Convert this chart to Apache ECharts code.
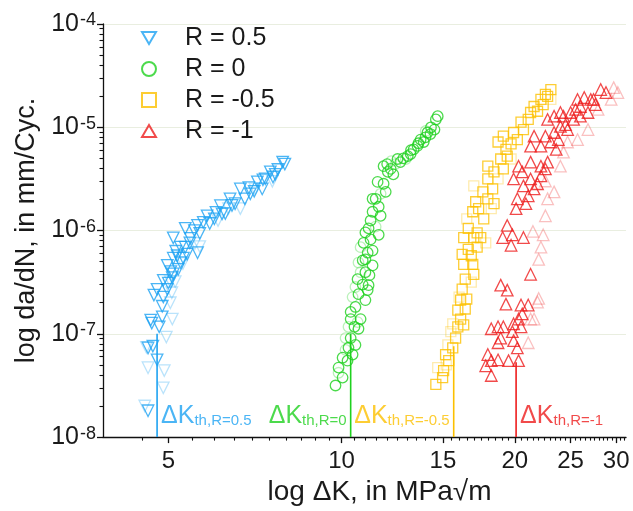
<!DOCTYPE html>
<html>
<head>
<meta charset="utf-8">
<script src="https://cdn.jsdelivr.net/npm/echarts@6/dist/echarts.min.js"></script>
<style>
  html, body { margin: 0; padding: 0; background: #ffffff; }
  #chart { width: 633px; height: 511px; }
</style>
</head>
<body>
<div id="chart"></div>
<script>
// Fatigue crack growth rate da/dN versus stress intensity range ΔK for four R ratios.

// Axis ranges and tick values
const xRange = [3.85, 31.2];
const yRange = [1e-8, 1e-4];
const xMajorTicks = [5, 10, 15, 20, 25, 30];
const xMinorTicks = [4.5, 5.5, 6, 6.5, 7, 7.5, 8, 8.5, 9, 9.5,
  10.5, 11, 11.5, 12, 12.5, 13, 13.5, 14, 14.5, 15.5, 16, 16.5, 17, 17.5, 18, 18.5, 19, 19.5,
  20.5, 21, 21.5, 22, 22.5, 23, 23.5, 24, 24.5, 25.5, 26, 26.5, 27, 27.5, 28, 28.5, 29, 29.5, 30.5, 31];
const yMinorMantissas = [2, 3, 4, 5, 6, 7, 8, 9];
const yDecades = [1e-8, 1e-7, 1e-6, 1e-5];

// Legend names
const seriesNames = ['R = 0.5', 'R = 0', 'R = -0.5', 'R = -1'];

// R = 0.5  [ΔK (MPa√m), da/dN (mm/cycle)]
const r05Main = [
  [4.61, 1.8e-8], [4.78, 5.6e-8], [4.61, 7.3e-8], [4.70, 7.6e-8], [4.68, 1.27e-7], [4.82, 1.17e-7],
  [4.66, 1.36e-7], [4.88, 1.46e-7], [4.88, 1.85e-7], [4.72, 2.37e-7], [4.90, 2.27e-7], [4.78, 2.7e-7],
  [4.98, 2.7e-7], [4.90, 3.3e-7], [5.10, 3.8e-7], [4.98, 4.6e-7], [5.20, 4.2e-7], [5.10, 5.4e-7],
  [5.31, 5.4e-7], [5.39, 5.9e-7], [5.62, 6.1e-7], [5.25, 6.9e-7], [5.10, 8.5e-7], [5.35, 1.05e-6],
  [5.62, 1.12e-6], [5.84, 1.39e-6], [6.16, 1.74e-6], [6.40, 2.03e-6], [6.67, 2.53e-6], [7.14, 2.96e-6],
  [7.52, 3.7e-6], [7.90, 4.6e-6], [5.46, 8.4e-7], [5.67, 9.4e-7], [5.90, 1.17e-6], [6.01, 1.3e-6],
  [6.28, 1.46e-6], [6.53, 1.82e-6], [6.79, 2.03e-6], [6.94, 2.27e-6], [7.28, 2.53e-6], [7.37, 3.17e-6],
  [7.67, 3.5e-6], [7.75, 3.9e-6], [7.97, 4.4e-6], [5.35, 6.9e-7], [5.18, 5.7e-7], [5.25, 4.9e-7],
  [5.55, 1.0e-6], [5.75, 1.2e-6], [6.05, 1.5e-6], [6.20, 1.45e-6], [6.45, 1.75e-6], [6.90, 2.6e-6],
  [7.05, 2.4e-6], [7.30, 3.1e-6], [7.60, 3.3e-6], [5.05, 4.0e-7], [5.15, 6.3e-7], [5.45, 7.6e-7],
  [5.00, 3.1e-7], [5.08, 3.5e-7]
];
const r05Light = [
  [4.55, 2.0e-8], [4.90, 3.0e-8], [4.92, 4.4e-8], [4.61, 4.7e-8], [4.58, 7.4e-8], [4.96, 9.3e-8],
  [5.08, 1.39e-7], [5.04, 2.0e-7], [5.04, 3.2e-7], [5.56, 7.5e-7], [6.36, 1.63e-6], [6.67, 1.63e-6],
  [7.58, 3.0e-6], [7.07, 2.53e-6], [5.67, 7.0e-7], [5.14, 3.2e-7], [5.07, 2.5e-7], [5.30, 4.8e-7],
  [6.10, 1.25e-6]
];

// R = 0
const r0Main = [
  [9.76, 3.16e-8], [10.04, 3.77e-8], [9.88, 4.71e-8], [10.24, 5.5e-8], [10.04, 5.87e-8], [10.45, 6.3e-8],
  [10.28, 7.33e-8], [10.57, 7.8e-8], [10.37, 9.1e-8], [10.70, 1.12e-7], [10.37, 1.39e-7], [10.79, 1.39e-7],
  [10.37, 1.63e-7], [10.57, 1.82e-7], [11.00, 2.12e-7], [10.70, 2.42e-7], [11.10, 2.65e-7], [10.88, 3.0e-7],
  [11.14, 2.96e-7], [11.00, 3.95e-7], [11.18, 3.7e-7], [10.88, 5.15e-7], [11.10, 6.1e-7], [11.32, 6.4e-7],
  [10.92, 7.6e-7], [11.60, 9.1e-7], [11.14, 1.05e-6], [11.69, 1.39e-6], [11.32, 1.52e-6], [11.46, 2.03e-6],
  [11.93, 2.37e-6], [11.55, 2.96e-6], [12.03, 3.7e-6], [11.83, 4.2e-6], [12.51, 4.93e-6], [13.03, 5.26e-6],
  [13.34, 6.1e-6], [13.72, 7.6e-6], [13.89, 7.2e-6], [14.10, 8.9e-6], [14.50, 9.5e-6], [14.58, 1.19e-5],
  [14.69, 1.28e-5], [12.17, 3.95e-6], [12.65, 4.6e-6], [13.18, 5.5e-6], [13.55, 6.6e-6], [13.99, 8.0e-6],
  [14.27, 8.6e-6], [12.30, 3.5e-6], [11.83, 2.84e-6], [11.32, 2.03e-6], [11.60, 1.7e-6], [11.23, 1.25e-6],
  [11.00, 9.6e-7], [11.23, 8.2e-7], [11.00, 5.26e-7], [11.32, 4.6e-7], [10.66, 3.38e-7], [10.53, 1.17e-7],
  [12.80, 5.0e-6], [13.20, 6.0e-6], [12.00, 4.4e-6], [14.30, 1.0e-5], [13.60, 7.0e-6]
];
const r0Light = [
  [10.16, 7.0e-8], [10.28, 1.17e-7], [10.57, 2.84e-7], [10.79, 3.95e-7], [12.40, 4.4e-6], [12.93, 4.93e-6],
  [11.69, 2.27e-6], [11.46, 1.09e-6], [10.79, 6.9e-7], [10.70, 4.9e-7], [10.45, 2.27e-7], [10.66, 1.3e-7],
  [10.16, 9.1e-8], [9.88, 4.2e-8], [12.20, 4.7e-6], [14.00, 9.2e-6]
];

// R = -0.5
const rm05Main = [
  [14.58, 3.24e-8], [14.98, 3.77e-8], [15.04, 4.4e-8], [15.35, 5.5e-8], [15.16, 6.3e-8], [15.60, 7.3e-8],
  [15.78, 9.1e-8], [15.92, 1.17e-7], [16.30, 1.22e-7], [16.10, 1.39e-7], [15.92, 1.7e-7], [16.40, 1.74e-7],
  [16.10, 2.12e-7], [16.50, 2.17e-7], [16.20, 2.71e-7], [16.40, 3.38e-7], [16.97, 3.77e-7], [16.30, 4.7e-7],
  [16.90, 4.7e-7], [17.20, 6.9e-7], [16.20, 5.87e-7], [16.60, 6.56e-7], [16.30, 8.55e-7], [16.97, 8.55e-7],
  [17.45, 8.55e-7], [16.60, 1.05e-6], [17.66, 1.3e-6], [16.90, 1.52e-6], [17.10, 1.9e-6], [17.95, 2.03e-6],
  [17.60, 2.37e-6], [17.95, 3.16e-6], [18.40, 3.7e-6], [17.95, 4.2e-6], [18.90, 4.93e-6], [19.40, 5.26e-6],
  [18.70, 7.2e-6], [19.10, 8.2e-6], [19.90, 8.9e-6], [20.50, 1.12e-5], [21.10, 1.19e-5], [21.30, 1.39e-5],
  [21.60, 1.59e-5], [22.20, 1.86e-5], [22.80, 1.99e-5], [23.10, 2.32e-5], [18.30, 2.53e-6], [19.10, 3.95e-6],
  [19.30, 6.1e-6], [19.70, 6.9e-6], [20.20, 7.6e-6], [20.70, 9.5e-6], [21.90, 1.43e-5], [22.40, 1.66e-5],
  [22.60, 2.08e-5], [18.40, 1.82e-6], [17.30, 1.63e-6], [17.20, 9.5e-7], [16.80, 5.7e-7]
];
const rm05Light = [
  [14.69, 4.7e-8], [15.30, 7.8e-8], [15.48, 1.05e-7], [15.60, 1.25e-7], [16.00, 2.27e-7], [16.80, 3.16e-7],
  [16.50, 1.3e-6], [16.97, 2.71e-6], [18.70, 3.16e-6], [19.70, 4.93e-6], [23.10, 1.86e-5], [18.20, 1.63e-6],
  [17.80, 7.6e-7], [15.20, 5.0e-8]
];

// R = -1
const rm1Main = [
  [18.2, 3.95e-8], [17.8, 4.9e-8], [18.2, 5.5e-8], [17.95, 6.3e-8], [18.7, 5.6e-8], [19.5, 5.5e-8],
  [20.3, 5.5e-8], [20.2, 7.3e-8], [18.7, 8.2e-8], [19.9, 8.6e-8], [18.9, 9.1e-8], [19.8, 1.05e-7],
  [18.2, 1.12e-7], [19.1, 1.17e-7], [18.7, 1.17e-7], [20.5, 1.17e-7], [19.9, 1.25e-7], [20.3, 1.39e-7],
  [20.6, 1.56e-7], [20.5, 1.9e-7], [21.1, 1.9e-7], [19.3, 1.94e-7], [19.4, 2.65e-7], [18.9, 2.96e-7],
  [21.3, 3.77e-7], [19.05, 8.55e-7], [19.8, 9.1e-7], [20.7, 8.55e-7], [19.7, 7.2e-7], [19.4, 1.12e-6],
  [20.1, 1.63e-6], [20.2, 2.03e-6], [21.1, 2.17e-6], [20.7, 2.71e-6], [21.6, 2.53e-6], [19.9, 3.16e-6],
  [21.3, 3.16e-6], [22.2, 3.38e-6], [20.6, 3.7e-6], [22.2, 4.2e-6], [21.3, 4.6e-6], [22.8, 4.6e-6],
  [20.3, 4.2e-6], [21.3, 6.56e-6], [22.2, 6.56e-6], [23.1, 7.2e-6], [21.6, 8.2e-6], [22.6, 8.2e-6],
  [23.4, 8.9e-6], [24.0, 1.02e-5], [24.7, 9.5e-6], [22.8, 1.19e-5], [23.4, 1.28e-5], [24.3, 1.28e-5],
  [25.3, 1.19e-5], [24.0, 1.39e-5], [25.0, 1.39e-5], [26.0, 1.28e-5], [26.8, 1.39e-5], [26.0, 1.59e-5],
  [27.1, 1.86e-5], [25.7, 1.86e-5], [26.4, 1.94e-5], [27.4, 1.86e-5], [28.2, 2.32e-5], [28.8, 2.17e-5],
  [20.9, 1.82e-6], [21.9, 2.84e-6], [22.6, 3.95e-6], [23.6, 6.1e-6], [23.8, 7.6e-6], [24.5, 1.06e-5],
  [25.5, 1.49e-5], [27.6, 1.66e-5]
];
const rm1Light = [
  [21.1, 8.2e-8], [21.3, 1.39e-7], [21.9, 2.03e-7], [22.0, 5.26e-7], [22.2, 6.9e-7], [21.5, 9.8e-7],
  [22.4, 9.1e-7], [22.6, 1.39e-6], [22.8, 2.03e-6], [22.6, 3.02e-6], [23.4, 2.37e-6], [29.7, 2.42e-5],
  [30.2, 2.17e-5], [29.4, 1.86e-5], [27.9, 1.49e-5], [26.8, 9.5e-6], [25.7, 7.6e-6], [24.7, 7.2e-6],
  [24.3, 5.75e-6], [24.0, 4.2e-6], [21.6, 1.39e-7], [22.0, 2.2e-7]
];

// Threshold ΔK_th per R ratio and the da/dN reached by each marker line
const thresholdK = [4.78, 10.37, 15.66, 20.1];
const thresholdTop = [1e-7, 1e-7, 7.6e-8, 5.3e-8];
const thresholdSub = ['th,R=0.5', 'th,R=0', 'th,R=-0.5', 'th,R=-1'];

// ---------------------------------------------------------------------------
const FONT = '"Liberation Sans", Arial, Helvetica, sans-serif';
const palette = ['#1ea2f2', '#1fd11f', '#fcc000', '#ee1d1d'];
const lightPalette = ['rgba(30,162,242,0.38)', 'rgba(31,209,31,0.38)', 'rgba(252,192,0,0.4)', 'rgba(238,29,29,0.35)'];
const markers = [
  { symbol: 'triangle', size: 11.5, rotate: 180, legendIcon: 'path://M0,0L12,0L6,10.4Z' },
  { symbol: 'circle', size: 10.5, rotate: 0, legendIcon: 'circle' },
  { symbol: 'rect', size: 10, rotate: 0, legendIcon: 'rect' },
  { symbol: 'triangle', size: 11.5, rotate: 0, legendIcon: 'path://M6,0L12,10.4L0,10.4Z' }
];
const labelSide = ['right', 'left', 'left', 'right'];

const mainSets = [r05Main, r0Main, rm05Main, rm1Main];
const lightSets = [r05Light, r0Light, rm05Light, rm1Light];

function hollowSeries(name, data, idx, color, z) {
  const m = markers[idx];
  return {
    type: 'scatter', name: name, data: data,
    symbol: m.symbol, symbolSize: m.size, symbolRotate: m.rotate,
    itemStyle: { color: 'rgba(0,0,0,0)', borderColor: color, borderWidth: 1.3 },
    emphasis: { disabled: true }, silent: true, z: z
  };
}

const series = [];
lightSets.forEach((d, i) => series.push(hollowSeries(seriesNames[i] + ' ', d, i, lightPalette[i], 2)));
mainSets.forEach((d, i) => series.push(hollowSeries(seriesNames[i], d, i, palette[i], 3)));

thresholdK.forEach((k, i) => {
  series.push({
    type: 'line', data: [[k, yRange[0]], [k, thresholdTop[i]]],
    symbol: 'none', showSymbol: false, silent: true, z: 4,
    lineStyle: { color: palette[i], width: 1.6 }
  });
});

series.push({
  type: 'scatter', symbolSize: 0, silent: true, clip: false, z: 5,
  data: thresholdK.map((k, i) => ({
    value: [k, yRange[0]],
    label: {
      show: true, position: labelSide[i], distance: 4, offset: [0, -21],
      formatter: '{dk|ΔK}{sub|' + thresholdSub[i] + '}',
      rich: {
        dk: { fontSize: 25, lineHeight: 25, color: palette[i], fontFamily: FONT, verticalAlign: 'top' },
        sub: { fontSize: 15, lineHeight: 15, color: palette[i], fontFamily: FONT, verticalAlign: 'bottom', padding: [14, 0, 0, 0] }
      }
    }
  }))
});

const yMinorTicks = [];
yDecades.forEach(d => yMinorMantissas.forEach(m => yMinorTicks.push(m * d)));

const axisColor = '#111';
const option = {
  animation: false,
  backgroundColor: '#ffffff',
  grid: { left: 103, right: 7, top: 24, bottom: 71, containLabel: false },
  legend: {
    data: seriesNames.map((n, i) => ({ name: n, icon: markers[i].legendIcon })),
    orient: 'vertical', left: 136, top: 20,
    itemWidth: 14, itemHeight: 14, itemGap: 5,
    textStyle: { fontSize: 25, lineHeight: 26, color: '#1a1a1a', fontFamily: FONT, padding: [0, 0, 0, 24] },
    selectedMode: false
  },
  xAxis: [
    {
      type: 'log', logBase: 10, min: xRange[0], max: xRange[1], position: 'bottom',
      name: 'log ΔK, in MPa√m', nameLocation: 'middle', nameGap: 38,
      nameTextStyle: { fontSize: 28, color: '#1a1a1a', fontFamily: FONT, padding: [0, 0, 0, 30] },
      axisLine: { show: true, lineStyle: { color: axisColor, width: 1.3 } },
      axisTick: { show: true, customValues: xMajorTicks, length: 6, lineStyle: { color: axisColor, width: 1.3 } },
      axisLabel: { show: true, customValues: xMajorTicks, margin: 12, fontSize: 24, color: '#1a1a1a', fontFamily: FONT,
        formatter: v => String(Math.round(v)) },
      splitLine: { show: false }, minorTick: { show: false }
    },
    {
      type: 'log', logBase: 10, min: xRange[0], max: xRange[1], position: 'bottom',
      axisLine: { show: false },
      axisTick: { show: true, customValues: xMinorTicks, length: 3.5, lineStyle: { color: axisColor, width: 1.1 } },
      axisLabel: { show: false }, splitLine: { show: false }
    }
  ],
  yAxis: [
    {
      type: 'log', logBase: 10, min: yRange[0], max: yRange[1], position: 'left',
      name: 'log da/dN, in mm/Cyc.', nameLocation: 'middle', nameGap: 61,
      nameTextStyle: { fontSize: 27, color: '#1a1a1a', fontFamily: FONT },
      axisLine: { show: true, lineStyle: { color: axisColor, width: 1.3 } },
      axisTick: { show: true, length: 6, lineStyle: { color: axisColor, width: 1.3 } },
      axisLabel: {
        show: true, margin: 7,
        formatter: v => '{b|10}{s|' + Math.round(Math.log10(v)) + '}',
        rich: {
          b: { fontSize: 25, lineHeight: 25, color: '#1a1a1a', fontFamily: FONT },
          s: { fontSize: 18, lineHeight: 18, color: '#1a1a1a', fontFamily: FONT, verticalAlign: 'top', padding: [0, 0, 0, 1] }
        }
      },
      splitLine: { show: true, showMinLine: false, showMaxLine: false, lineStyle: { color: '#e9eee0', width: 1.2 } },
      minorTick: { show: false }
    },
    {
      type: 'log', logBase: 10, min: yRange[0], max: yRange[1], position: 'left',
      axisLine: { show: false },
      axisTick: { show: true, customValues: yMinorTicks, length: 3.5, lineStyle: { color: axisColor, width: 1.1 } },
      axisLabel: { show: false }, splitLine: { show: false }
    }
  ],
  series: series
};

const chart = echarts.init(document.getElementById('chart'), null, { renderer: 'canvas' });
chart.setOption(option);
</script>
</body>
</html>
